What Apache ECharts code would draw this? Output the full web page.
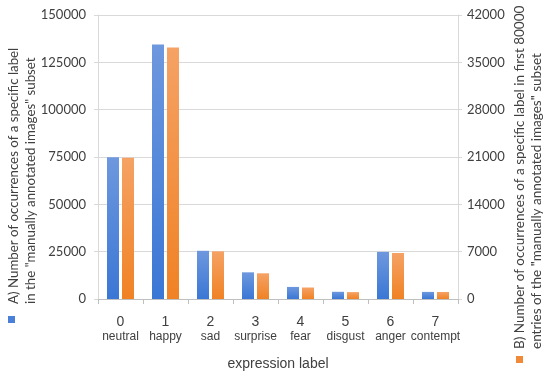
<!DOCTYPE html>
<html>
<head>
<meta charset="utf-8">
<script src="https://cdn.jsdelivr.net/npm/echarts@6/dist/echarts.min.js"></script>
<style>
html,body{margin:0;padding:0;background:#fff;}
#c{width:550px;height:376px;}
</style>
</head>
<body>
<div id="c"></div>
<script>
const codes = ['0','1','2','3','4','5','6','7'];
const names = ['neutral','happy','sad','surprise','fear','disgust','anger','contempt'];
const seriesA = [74874, 134415, 25459, 14090, 6378, 3803, 24882, 3750];
const seriesB = [20900, 37200, 7050, 3800, 1700, 1020, 6800, 1040];
const leftTicks = {min: 0, max: 150000, interval: 25000};
const rightTicks = {min: 0, max: 42000, interval: 7000};
const nameA = 'A) Number of occurrences of a specific label\nin the "manually annotated images" subset';
const nameB = 'B) Number of occurrences of a specific label in first 80000\nentries of the "manually annotated images" subset';
const xTitle = 'expression label';

const blueGrad = new echarts.graphic.LinearGradient(0,0,0,1,[{offset:0,color:'#6e98de'},{offset:1,color:'#3a77d5'}]);
const orangeGrad = new echarts.graphic.LinearGradient(0,0,0,1,[{offset:0,color:'#f5a265'},{offset:1,color:'#f08224'}]);
const font = 'Lato, "Liberation Sans", sans-serif';
const armFont = '"Liberation Sans", Arial, sans-serif';
const plain = v => String(v);

const chart = echarts.init(document.getElementById('c'));
chart.setOption({
  animation: false,
  grid: {left: 98, right: 92, top: 15, bottom: 77},
  xAxis: {
    type: 'category',
    data: codes.map((c,i)=>c+'\n'+names[i]),
    axisLine: {lineStyle: {color: '#bfbfbf'}},
    axisTick: {show: true, length: 5, lineStyle: {color: '#bfbfbf'}},
    axisLabel: {
      interval: 0, margin: 16,
      formatter: function(v){ const p=v.split('\n'); return '{n|'+p[0]+'}\n{t|'+p[1]+'}'; },
      rich: {
        n: {fontSize: 14, fontFamily: armFont, color: '#404040', lineHeight: 15},
        t: {fontSize: 12, fontFamily: armFont, color: '#404040', lineHeight: 14}
      }
    },
    name: xTitle, nameLocation: 'middle', nameGap: 58,
    nameTextStyle: {fontSize: 14, fontFamily: armFont, color: '#404040'}
  },
  yAxis: [
    {type: 'value', min: leftTicks.min, max: leftTicks.max, interval: leftTicks.interval,
     axisLine: {show: true, lineStyle: {color: '#d9d9d9'}},
     axisTick: {show: true, length: 4, lineStyle: {color: '#d9d9d9'}},
     splitLine: {lineStyle: {color: '#d9d9d9'}},
     axisLabel: {fontSize: 13, fontFamily: font, color: '#404040', margin: 12, formatter: plain}},
    {type: 'value', min: rightTicks.min, max: rightTicks.max, interval: rightTicks.interval,
     axisLine: {show: true, lineStyle: {color: '#d9d9d9'}},
     axisTick: {show: true, length: 4, lineStyle: {color: '#d9d9d9'}},
     splitLine: {show: false},
     axisLabel: {fontSize: 13, fontFamily: font, color: '#404040', margin: 9, formatter: plain}}
  ],
  series: [
    {type: 'bar', name: 'A', yAxisIndex: 0, data: seriesA, barWidth: 12, barGap: '25%',
     itemStyle: {color: blueGrad}},
    {type: 'bar', name: 'B', yAxisIndex: 1, data: seriesB, barWidth: 12,
     itemStyle: {color: orangeGrad}}
  ],
  graphic: [
    {type: 'text', x: 22, y: 304, rotation: Math.PI/2,
     style: {text: nameA, fontSize: 13.3, fontFamily: font, fill: '#404040', align: 'left', verticalAlign: 'middle', lineHeight: 17}},
    {type: 'rect', shape: {x: 8, y: 316, width: 7, height: 7}, style: {fill: '#4a80d8'}},
    {type: 'text', x: 528, y: 349, rotation: Math.PI/2,
     style: {text: nameB, fontSize: 13.5, fontFamily: font, fill: '#404040', align: 'left', verticalAlign: 'middle', lineHeight: 17}},
    {type: 'rect', shape: {x: 516, y: 356, width: 7, height: 7}, style: {fill: '#f08a38'}}
  ]
});
</script>
</body>
</html>
